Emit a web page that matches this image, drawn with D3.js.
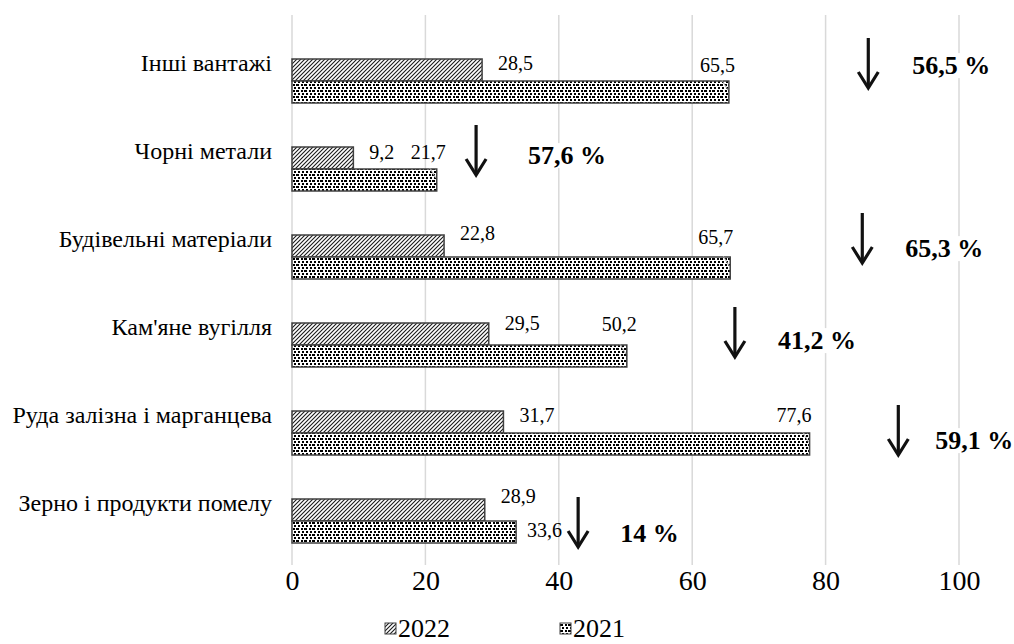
<!DOCTYPE html>
<html>
<head>
<meta charset="utf-8">
<script src="https://cdn.jsdelivr.net/npm/d3@7"></script>
<style>
  html, body { margin: 0; padding: 0; background: #fff; }
</style>
</head>
<body>
<svg id="chart" width="1014" height="644"></svg>
<script>
// Cargo groups, top to bottom
const categories = [
  "Інші вантажі",
  "Чорні метали",
  "Будівельні матеріали",
  "Кам'яне вугілля",
  "Руда залізна і марганцева",
  "Зерно і продукти помелу"
];
const series = ["2022", "2021"];
const values2022 = [28.5, 9.2, 22.8, 29.5, 31.7, 28.9];
const values2021 = [65.5, 21.7, 65.7, 50.2, 77.6, 33.6];
const xTicks = [0, 20, 40, 60, 80, 100];

// Where each decline arrow sits (in axis units) and label placement tweaks
const arrowAt = [86.4, 27.6, 85.5, 66.4, 90.9, 42.9];
const arrowTopDy = [-43, -44, -44, -38, -28, -24];
const pctDx = [44, 52, 43, 43, 37, 42];
const pctDy = [27, 30, 35, 33, 35, 36];
const lab2022Dy = [4, 5, -2, 0, 4, -3];
const lab2021Mode = ["above", "above", "above", "above", "above", "right"];
const lab2021Dy = [-16, -17, -20, -21, -18, 9];
const lab2021Dx = [6, 9, 3, 10, 2, 11];

const FONT = "Liberation Serif";
const fmt = v => String(v).replace(".", ",");
const pctText = (a, b) => {
  const p = (1 - a / b) * 100;
  let s = d3.format(".1f")(p).replace(".", ",");
  if (s.endsWith(",0")) s = s.slice(0, -2);
  return s + " %";
};

const svg = d3.select("#chart").attr("font-family", FONT).style("font-family", FONT);
const defs = svg.append("defs");

// Diagonal hatch for 2022
const hatch = defs.append("pattern")
  .attr("id", "hatch").attr("patternUnits", "userSpaceOnUse")
  .attr("width", 4).attr("height", 4);
hatch.append("rect").attr("width", 4).attr("height", 4).attr("fill", "#fff");
hatch.append("path").attr("d", "M-1,1 l2,-2 M0,4 l4,-4 M3,5 l2,-2")
  .attr("stroke", "#1a1a1a").attr("stroke-width", 1.1);

// Confetti pattern for 2021
const conf = defs.append("pattern")
  .attr("id", "confetti").attr("patternUnits", "userSpaceOnUse")
  .attr("width", 8).attr("height", 6);
conf.append("rect").attr("width", 8).attr("height", 6).attr("fill", "#fff");
[[0, 0, 3, 2], [5, 0, 2, 2], [2, 3, 2, 2], [6, 3, 2, 2]].forEach(([x, y, w, h]) =>
  conf.append("rect").attr("x", x).attr("y", y).attr("width", w).attr("height", h).attr("fill", "#000"));

const x = d3.scaleLinear().domain([0, 100]).range([292, 959]);
const y = d3.scaleBand().domain(categories).range([37, 565]).paddingInner(0.5).paddingOuter(0.25);
const ySub = d3.scaleBand().domain(series).range([0, y.bandwidth()]);

// Gridlines
svg.append("g").selectAll("line").data(xTicks).join("line")
  .attr("x1", d => x(d)).attr("x2", d => x(d))
  .attr("y1", 15).attr("y2", 565)
  .attr("stroke", "#d9d9d9").attr("stroke-width", 1.5);

// Tick labels
const xAxis = d3.axisBottom(x).tickValues(xTicks).tickSize(0).tickPadding(0);
const gx = svg.append("g").attr("transform", "translate(0,568)").call(xAxis);
gx.attr("font-family", FONT).style("font-family", FONT);
gx.select(".domain").remove();
gx.selectAll("text").attr("font-family", FONT).style("font-family", FONT).attr("font-size", 28)
  .attr("fill", "#000").attr("dy", "0.8em");

// Category labels
svg.append("g").selectAll("text").data(categories).join("text")
  .attr("x", 272).attr("y", d => y(d) + 12)
  .attr("text-anchor", "end").attr("font-size", 24).attr("fill", "#000")
  .attr("font-family", FONT).style("font-family", FONT)
  .text(d => d);

const rows = categories.map((c, i) => ({ c, i, v22: values2022[i], v21: values2021[i] }));

// Bars
const barG = svg.append("g");
barG.selectAll("rect.b22").data(rows).join("rect").attr("class", "b22")
  .attr("x", x(0)).attr("y", d => y(d.c) + ySub("2022"))
  .attr("width", d => x(d.v22) - x(0)).attr("height", ySub.bandwidth())
  .attr("fill", "url(#hatch)").attr("stroke", "#404040").attr("stroke-width", 1.5);
barG.selectAll("rect.b21").data(rows).join("rect").attr("class", "b21")
  .attr("x", x(0)).attr("y", d => y(d.c) + ySub("2021"))
  .attr("width", d => x(d.v21) - x(0)).attr("height", ySub.bandwidth())
  .attr("fill", "url(#confetti)").attr("stroke", "#404040").attr("stroke-width", 1.5);

// Value labels, 2022
svg.append("g").selectAll("text").data(rows).join("text")
  .attr("x", d => x(d.v22) + 16)
  .attr("y", d => y(d.c) + ySub("2022") + lab2022Dy[d.i])
  .attr("dy", "0.35em").attr("font-size", 20).attr("fill", "#000")
  .attr("font-family", FONT).style("font-family", FONT)
  .text(d => fmt(d.v22));

// Value labels, 2021 (with short leader lines where placed above)
const l21 = svg.append("g");
rows.forEach(d => {
  const top = y(d.c) + ySub("2021");
  const end = x(d.v21);
  const above = lab2021Mode[d.i] === "above";
  if (above) {
    l21.append("line")
      .attr("x1", end - 7).attr("y1", top - 1).attr("x2", end - 1).attr("y2", top + 9)
      .attr("stroke", "#a6a6a6").attr("stroke-width", 1);
  }
  l21.append("text").attr("x", end + lab2021Dx[d.i]).attr("y", top + lab2021Dy[d.i])
    .attr("dy", "0.35em").attr("text-anchor", above ? "end" : "start").attr("font-size", 20)
    .attr("font-family", FONT).style("font-family", FONT)
    .text(fmt(d.v21));
});

// Decline arrows and percentages
const ann = svg.append("g");
rows.forEach(d => {
  const ax = x(arrowAt[d.i]);
  const top = y(d.c) + y.bandwidth() / 2 + arrowTopDy[d.i];
  const bot = top + 50;
  ann.append("line").attr("x1", ax).attr("x2", ax).attr("y1", top).attr("y2", bot - 1)
    .attr("stroke", "#111").attr("stroke-width", 3.2);
  ann.append("path").attr("d", `M${ax - 10},${bot - 16} L${ax},${bot} L${ax + 10},${bot - 16}`)
    .attr("fill", "none").attr("stroke", "#111").attr("stroke-width", 3.2)
    .attr("stroke-linejoin", "miter");
  const t = ann.append("text").attr("x", ax + pctDx[d.i]).attr("y", top + pctDy[d.i])
    .attr("dy", "0.35em").attr("font-size", 26).attr("font-weight", "bold")
    .attr("font-family", FONT).style("font-family", FONT)
    .text(pctText(d.v22, d.v21));
  const bb = t.node().getBBox();
  ann.insert("rect", () => t.node())
    .attr("x", bb.x - 2).attr("y", bb.y + 2).attr("width", bb.width + 4).attr("height", bb.height - 4)
    .attr("fill", "#fff");
});

// Legend
const legend = svg.append("g");
const legItems = [{ s: "2022", fill: "url(#hatch)", x: 385 }, { s: "2021", fill: "url(#confetti)", x: 560 }];
legItems.forEach(it => {
  legend.append("rect").attr("x", it.x).attr("y", 623).attr("width", 11).attr("height", 11)
    .attr("fill", it.fill).attr("stroke", "#404040").attr("stroke-width", 1);
  legend.append("text").attr("x", it.x + 13).attr("y", 637).attr("font-size", 26)
    .attr("font-family", FONT).style("font-family", FONT).text(it.s);
});
</script>
</body>
</html>
